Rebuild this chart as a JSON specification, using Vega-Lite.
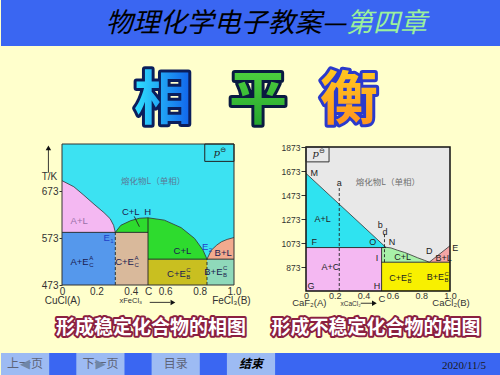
{
  "$schema": "https://vega.github.io/schema/vega-lite/v6.json",
  "background": "#FFFFCC",
  "padding": 0,
  "spacing": 0,
  "bounds": "flush",
  "config": {
    "view": {"stroke": null},
    "concat": {"spacing": 0},
    "axis": {"grid": false, "labelFont": "Liberation Sans"},
    "text": {"font": "Liberation Sans"}
  },
  "datasets": {
    "LA": [
      {"g": "AL", "x": 0, "T": 695, "T2": 585},
      {"g": "AL", "x": 0.069, "T": 682, "T2": 585},
      {"g": "AL", "x": 0.127, "T": 664, "T2": 585},
      {"g": "AL", "x": 0.186, "T": 645, "T2": 585},
      {"g": "AL", "x": 0.244, "T": 627, "T2": 585},
      {"g": "AL", "x": 0.28, "T": 614, "T2": 585},
      {"g": "AL", "x": 0.3, "T": 600, "T2": 585},
      {"g": "AL", "x": 0.31, "T": 585, "T2": 585},
      {"g": "CL", "x": 0.31, "T": 585, "T2": 585},
      {"g": "CL", "x": 0.342, "T": 600, "T2": 585},
      {"g": "CL", "x": 0.4, "T": 610, "T2": 585},
      {"g": "CL", "x": 0.45, "T": 615, "T2": 585},
      {"g": "CL", "x": 0.4999, "T": 616, "T2": 585},
      {"g": "CL", "x": 0.5001, "T": 616, "T2": 528},
      {"g": "CL", "x": 0.595, "T": 611, "T2": 528},
      {"g": "CL", "x": 0.693, "T": 595, "T2": 528},
      {"g": "CL", "x": 0.771, "T": 572, "T2": 528},
      {"g": "CL", "x": 0.82, "T": 547, "T2": 528},
      {"g": "CL", "x": 0.843, "T": 528, "T2": 528},
      {"g": "BL", "x": 0.843, "T": 528, "T2": 528},
      {"g": "BL", "x": 0.868, "T": 547, "T2": 528},
      {"g": "BL", "x": 0.9, "T": 558, "T2": 528},
      {"g": "BL", "x": 0.927, "T": 565, "T2": 528},
      {"g": "BL", "x": 0.96, "T": 570, "T2": 528},
      {"g": "BL", "x": 1, "T": 574, "T2": 528}
    ],
    "LR": [
      {"g": "L", "x": 0, "x2": 1, "T": 473, "T2": 773},
      {"g": "AE", "x": 0, "x2": 0.31, "T": 473, "T2": 585},
      {"g": "CEA", "x": 0.31, "x2": 0.5, "T": 473, "T2": 585},
      {"g": "CEC", "x": 0.5, "x2": 0.843, "T": 473, "T2": 528},
      {"g": "BE", "x": 0.843, "x2": 1, "T": 473, "T2": 528}
    ],
    "LS": [
      {"x": 0, "T": 585, "x2": 0.5, "T2": 585},
      {"x": 0.5, "T": 528, "x2": 1, "T2": 528},
      {"x": 0.5, "T": 473, "x2": 0.5, "T2": 616},
      {"x": 0.42, "T": 619, "x2": 0.45, "T2": 597},
      {"x": -0.079, "T": 712, "x2": -0.079, "T2": 762},
      {"x": 0.51, "T": 436, "x2": 0.63, "T2": 436}
    ],
    "LD": [
      {"x": 0.31, "T": 473, "x2": 0.31, "T2": 585},
      {"x": 0.843, "T": 473, "x2": 0.843, "T2": 528}
    ],
    "LT": [
      {"x": -0.079, "T": 765, "dir": "up"},
      {"x": 0.645, "T": 436, "dir": "right"}
    ],
    "LL": [
      {"x": 0.1, "T": 610, "t": "A+L"},
      {"x": 0.4, "T": 628, "t": "C+L"},
      {"x": 0.498, "T": 629, "t": "H"},
      {"x": 0.7, "T": 545, "t": "C+L"},
      {"x": 0.937, "T": 542, "t": "B+L"}
    ],
    "LC": [
      {"x": 0.155, "T": 523, "main": "A+E", "sup": "A", "sub": "C"},
      {"x": 0.418, "T": 523, "main": "C+E", "sup": "A", "sub": "C"},
      {"x": 0.72, "T": 497, "main": "C+E", "sup": "C", "sub": "B"},
      {"x": 0.933, "T": 501, "main": "B+E", "sup": "C", "sub": "B"},
      {"x": 0.278, "T": 573, "main": "E", "sup": "", "sub": "1"},
      {"x": 0.851, "T": 553, "main": "E", "sup": "", "sub": "2"}
    ],
    "LO": [
      {"x": 0.003, "T": 438, "t": "CuCl(A)"},
      {"x": 0.4, "T": 438, "t": "xFeCl₃"},
      {"x": 0.985, "T": 438, "t": "FeCl₃(B)"},
      {"x": -0.073, "T": 703, "t": "T/K"}
    ],
    "RA": [
      {"g": "AL", "x": 0, "T": 1653, "T2": 1035},
      {"g": "AL", "x": 0.556, "T": 1035, "T2": 1035},
      {"g": "CL", "x": 0.525, "T": 1035, "T2": 913},
      {"g": "CL", "x": 0.556, "T": 1037, "T2": 913},
      {"g": "CL", "x": 0.59, "T": 1032, "T2": 913},
      {"g": "CL", "x": 0.637, "T": 1012, "T2": 913},
      {"g": "CL", "x": 0.683, "T": 995, "T2": 913},
      {"g": "CL", "x": 0.729, "T": 973, "T2": 913},
      {"g": "CL", "x": 0.775, "T": 950, "T2": 913},
      {"g": "CL", "x": 0.822, "T": 929, "T2": 913},
      {"g": "CL", "x": 0.856, "T": 913, "T2": 913},
      {"g": "BL", "x": 0.856, "T": 913, "T2": 913},
      {"g": "BL", "x": 1, "T": 1050, "T2": 913}
    ],
    "RR": [
      {"g": "L", "x": 0, "x2": 1, "T": 673, "T2": 1873},
      {"g": "AC", "x": 0, "x2": 0.525, "T": 673, "T2": 1035},
      {"g": "CE", "x": 0.525, "x2": 1, "T": 673, "T2": 913}
    ],
    "RS": [
      {"x": 0, "T": 1035, "x2": 0.556, "T2": 1035},
      {"x": 0.525, "T": 673, "x2": 0.525, "T2": 1035},
      {"x": 0.525, "T": 913, "x2": 1, "T2": 913},
      {"x": 0.38, "T": 571, "x2": 0.46, "T2": 571}
    ],
    "RD": [
      {"x": 0.231, "T": 673, "x2": 0.231, "T2": 1540},
      {"x": 0.545, "T": 913, "x2": 0.545, "T2": 1160}
    ],
    "RT": [
      {"x": 0.475, "T": 571, "dir": "right"}
    ],
    "RL": [
      {"x": 0.058, "T": 1658, "t": "M"},
      {"x": 0.231, "T": 1570, "t": "a"},
      {"x": 0.116, "T": 1273, "t": "A+L"},
      {"x": 0.516, "T": 1223, "t": "b"},
      {"x": 0.549, "T": 1167, "t": "d"},
      {"x": 0.058, "T": 1079, "t": "F"},
      {"x": 0.463, "T": 1079, "t": "O"},
      {"x": 0.597, "T": 1079, "t": "N"},
      {"x": 0.671, "T": 959, "t": "C+L"},
      {"x": 0.856, "T": 1006, "t": "D"},
      {"x": 1.037, "T": 1034, "t": "E"},
      {"x": 0.956, "T": 945, "t": "B+L"},
      {"x": 0.493, "T": 945, "t": "I"},
      {"x": 0.169, "T": 870, "t": "A+C"},
      {"x": 0.035, "T": 717, "t": "G"},
      {"x": 0.493, "T": 717, "t": "H"}
    ],
    "RC": [
      {"x": 0.701, "T": 779, "main": "C+E", "sup": "C", "sub": "B"},
      {"x": 0.958, "T": 787, "main": "B+E", "sup": "C", "sub": "B"}
    ],
    "RO": [
      {"x": 0.023, "T": 576, "t": "CaF₂(A)"},
      {"x": 0.31, "T": 568, "t": "xCaCl₂"},
      {"x": 1.007, "T": 576, "t": "CaCl₂(B)"},
      {"x": 0.528, "T": 604, "t": "C"}
    ]
  },
  "vconcat": [
    {
      "width": 500,
      "height": 46,
      "view": {"fill": "#3A66F2"},
      "data": {"values": [{"a": "物理化学电子教案—", "b": "第四章"}]},
      "layer": [
        {"mark": {"type": "text", "align": "right", "baseline": "middle", "dx": 95, "dy": 1, "font": "Noto Sans CJK SC", "fontSize": 27, "fontStyle": "italic", "color": "#000000"}, "encoding": {"text": {"field": "a"}}},
        {"mark": {"type": "text", "align": "left", "baseline": "middle", "dx": 95, "dy": 1, "font": "Noto Sans CJK SC", "fontSize": 27, "fontStyle": "italic", "color": "#9CF09C"}, "encoding": {"text": {"field": "b"}}}
      ]
    },
    {
      "width": 500,
      "height": 98,
      "data": {"values": [{"c": "相", "p": "平", "h": "衡"}]},
      "layer": [
        {"mark": {"type": "text", "font": "Noto Sans CJK SC", "fontWeight": "bold", "fontSize": 58, "baseline": "middle", "dx": -88, "dy": 7, "fill": "#0B1E5B", "stroke": "#0B1E5B", "strokeWidth": 6, "strokeJoin": "round"}, "encoding": {"text": {"field": "c"}}},
        {"mark": {"type": "text", "font": "Noto Sans CJK SC", "fontWeight": "bold", "fontSize": 58, "baseline": "middle", "dx": -88, "dy": 7,
          "fill": {"gradient": "linear", "x1": 0, "y1": 0, "x2": 1, "y2": 0, "stops": [{"offset": 0, "color": "#30E2FF"}, {"offset": 1, "color": "#1060EA"}]}}, "encoding": {"text": {"field": "c"}}},
        {"mark": {"type": "text", "font": "Noto Sans CJK SC", "fontWeight": "bold", "fontSize": 58, "baseline": "middle", "dx": 7, "dy": 7, "fill": "#0A1A40", "stroke": "#0A1A40", "strokeWidth": 6, "strokeJoin": "round"}, "encoding": {"text": {"field": "p"}}},
        {"mark": {"type": "text", "font": "Noto Sans CJK SC", "fontWeight": "bold", "fontSize": 58, "baseline": "middle", "dx": 7, "dy": 7,
          "fill": {"gradient": "linear", "x1": 0, "y1": 0, "x2": 0, "y2": 1, "stops": [{"offset": 0, "color": "#5ADD44"}, {"offset": 1, "color": "#1E9E2A"}]}}, "encoding": {"text": {"field": "p"}}},
        {"mark": {"type": "text", "font": "Noto Sans CJK SC", "fontWeight": "bold", "fontSize": 58, "baseline": "middle", "dx": 98, "dy": 7, "fill": "#2A3ACC", "stroke": "#2A3ACC", "strokeWidth": 6, "strokeJoin": "round"}, "encoding": {"text": {"field": "h"}}},
        {"mark": {"type": "text", "font": "Noto Sans CJK SC", "fontWeight": "bold", "fontSize": 58, "baseline": "middle", "dx": 98, "dy": 7,
          "fill": {"gradient": "linear", "x1": 0, "y1": 0, "x2": 0, "y2": 1, "stops": [{"offset": 0, "color": "#FFD820"}, {"offset": 1, "color": "#FF8A1E"}]}}, "encoding": {"text": {"field": "h"}}}
      ]
    },
    {
      "width": 500,
      "height": 147,
      "resolve": {"scale": {"x": "independent", "y": "independent", "color": "independent", "shape": "independent"}},
      "layer": [
        {
          "encoding": {
            "x": {"field": "x", "type": "quantitative", "scale": {"domain": [0, 1], "range": [61, 233], "nice": false, "zero": false},
              "axis": {"orient": "bottom", "offset": -6, "values": [0, 0.2, 0.4, 0.5, 0.6, 0.8, 1], "format": ".1f", "labelExpr": "datum.value == 0 ? '0' : (datum.value == 0.5 ? 'C' : datum.label)", "tickSize": 0, "labelPadding": 1, "labelFlush": false, "labelOverlap": false, "labelFontSize": 10, "labelColor": "#333333", "domain": false, "grid": false, "title": null}},
            "y": {"field": "T", "type": "quantitative", "stack": null, "scale": {"domain": [473, 773], "range": [141, 0], "nice": false, "zero": false},
              "axis": {"orient": "left", "offset": -61, "values": [473, 573, 673], "format": "d", "tickSize": 3, "labelPadding": 1, "labelFontSize": 10, "labelColor": "#333333", "tickColor": "#333333", "domain": false, "grid": false, "title": null}}
          },
          "layer": [
            {"data": {"name": "LR"}, "mark": {"type": "rect"},
             "encoding": {"x2": {"field": "x2"}, "y2": {"field": "T2"},
               "color": {"field": "g", "type": "nominal", "scale": {"domain": ["L", "AL", "CL", "BL", "AE", "CEA", "CEC", "BE"], "range": ["#3CE2F2", "#F4B8F2", "#2EDB2E", "#F2AA8E", "#5598EC", "#D9B99B", "#C9BF20", "#8FD9BA"]}, "legend": null}}},
            {"data": {"name": "LA"}, "mark": {"type": "area"},
             "encoding": {"y2": {"field": "T2"},
               "color": {"field": "g", "type": "nominal", "scale": {"domain": ["L", "AL", "CL", "BL", "AE", "CEA", "CEC", "BE"], "range": ["#3CE2F2", "#F4B8F2", "#2EDB2E", "#F2AA8E", "#5598EC", "#D9B99B", "#C9BF20", "#8FD9BA"]}, "legend": null}}},
            {"data": {"name": "LA"}, "mark": {"type": "line", "color": "#333333", "strokeWidth": 0.8},
             "encoding": {"detail": {"field": "g"}}},
            {"data": {"name": "LS"}, "mark": {"type": "rule", "color": "#222222", "strokeWidth": 0.9},
             "encoding": {"x2": {"field": "x2"}, "y2": {"field": "T2"}}},
            {"data": {"name": "LD"}, "mark": {"type": "rule", "color": "#222222", "strokeWidth": 0.9, "strokeDash": [3, 2]},
             "encoding": {"x2": {"field": "x2"}, "y2": {"field": "T2"}}},
            {"data": {"name": "LT"}, "mark": {"type": "point", "filled": true, "color": "#111111", "size": 30, "opacity": 1},
             "encoding": {"shape": {"field": "dir", "type": "nominal", "scale": {"domain": ["up", "right"], "range": ["triangle-up", "triangle-right"]}, "legend": null}}},
            {"data": {"values": [{"x": 0, "x2": 1, "T": 473, "T2": 773}]}, "mark": {"type": "rect", "filled": false, "color": "#333333", "strokeWidth": 1},
             "encoding": {"x2": {"field": "x2"}, "y2": {"field": "T2"}}},
            {"data": {"values": [{"x": 0.83, "x2": 1, "T": 736, "T2": 773}]}, "mark": {"type": "rect", "filled": false, "color": "#222222", "strokeWidth": 1},
             "encoding": {"x2": {"field": "x2"}, "y2": {"field": "T2"}}},
            {"data": {"values": [{"x": 0.92, "T": 754, "p": "p", "s": "⊖"}]},
             "layer": [
               {"mark": {"type": "text", "align": "right", "fontSize": 10, "fontStyle": "italic", "color": "#222222", "font": "DejaVu Serif"}, "encoding": {"text": {"field": "p"}}},
               {"mark": {"type": "text", "align": "left", "fontSize": 7, "dy": -3, "color": "#222222", "font": "DejaVu Sans"}, "encoding": {"text": {"field": "s"}}}
             ]},
            {"data": {"values": [{"x": 0.53, "T": 695, "t": "熔化物L（单相）"}]}, "mark": {"type": "text", "font": "Noto Sans CJK SC", "fontSize": 8.5, "color": "#5A7A98"},
             "encoding": {"text": {"field": "t"}}},
            {"data": {"name": "LL"}, "mark": {"type": "text", "fontSize": 9.5},
             "encoding": {"text": {"field": "t"}, "color": {"condition": {"test": "datum.t == 'A+L'", "value": "#9A70A8"}, "value": "#1A1A50"}}},
            {"data": {"name": "LC"},
             "encoding": {"color": {"condition": {"test": "datum.main == 'E'", "value": "#2040C8"}, "value": "#1A1A50"}},
             "layer": [
               {"mark": {"type": "text", "align": "right", "fontSize": 9.5}, "encoding": {"text": {"field": "main"}}},
               {"mark": {"type": "text", "align": "left", "fontSize": 6, "dy": -3.5, "dx": 0.5}, "encoding": {"text": {"field": "sup"}}},
               {"mark": {"type": "text", "align": "left", "fontSize": 6, "dy": 3, "dx": 0.5}, "encoding": {"text": {"field": "sub"}}}
             ]},
            {"data": {"name": "LO"}, "mark": {"type": "text", "color": "#333333"},
             "encoding": {"text": {"field": "t"}, "size": {"condition": {"test": "datum.t[0] == 'x'", "value": 7.5}, "value": 10}}}
          ]
        },
        {
          "encoding": {
            "x": {"field": "x", "type": "quantitative", "scale": {"domain": [0, 1], "range": [305, 449], "nice": false, "zero": false},
              "axis": {"orient": "bottom", "values": [0, 0.2, 0.4, 0.6, 0.8, 1], "format": ".1f", "labelExpr": "datum.value == 0 ? '0' : datum.label", "tickSize": 0, "labelPadding": 0, "labelFlush": false, "labelOverlap": false, "labelFontSize": 9, "labelColor": "#333333", "domain": false, "grid": false, "title": null}},
            "y": {"field": "T", "type": "quantitative", "stack": null, "scale": {"domain": [673, 1873], "range": [147, 3], "nice": false, "zero": false},
              "axis": {"orient": "left", "offset": -305, "values": [873, 1073, 1273, 1473, 1673, 1873], "format": "d", "tickSize": 5, "labelPadding": 1, "labelFontSize": 8.5, "labelColor": "#333333", "tickColor": "#333333", "domain": false, "grid": false, "title": null}}
          },
          "layer": [
            {"data": {"name": "RR"}, "mark": {"type": "rect"},
             "encoding": {"x2": {"field": "x2"}, "y2": {"field": "T2"},
               "color": {"field": "g", "type": "nominal", "scale": {"domain": ["L", "AL", "CL", "BL", "AC", "CE"], "range": ["#E8E8E8", "#2FE3F0", "#A8F0A8", "#F4A6A6", "#F4B8F2", "#F8F000"]}, "legend": null}}},
            {"data": {"name": "RA"}, "mark": {"type": "area"},
             "encoding": {"y2": {"field": "T2"},
               "color": {"field": "g", "type": "nominal", "scale": {"domain": ["L", "AL", "CL", "BL", "AC", "CE"], "range": ["#E8E8E8", "#2FE3F0", "#A8F0A8", "#F4A6A6", "#F4B8F2", "#F8F000"]}, "legend": null}}},
            {"data": {"name": "RA"}, "mark": {"type": "line", "color": "#333333", "strokeWidth": 0.8},
             "encoding": {"detail": {"field": "g"}}},
            {"data": {"name": "RS"}, "mark": {"type": "rule", "color": "#222222", "strokeWidth": 0.9},
             "encoding": {"x2": {"field": "x2"}, "y2": {"field": "T2"}}},
            {"data": {"name": "RD"}, "mark": {"type": "rule", "color": "#222222", "strokeWidth": 0.9, "strokeDash": [3, 2]},
             "encoding": {"x2": {"field": "x2"}, "y2": {"field": "T2"}}},
            {"data": {"name": "RT"}, "mark": {"type": "point", "filled": true, "color": "#111111", "size": 30, "opacity": 1, "shape": "triangle-right"}, "encoding": {}},
            {"data": {"values": [{"x": 0, "x2": 1, "T": 673, "T2": 1873}]}, "mark": {"type": "rect", "filled": false, "color": "#111111", "strokeWidth": 1.5},
             "encoding": {"x2": {"field": "x2"}, "y2": {"field": "T2"}}},
            {"data": {"values": [{"x": 0, "x2": 0.16, "T": 1749, "T2": 1873}]}, "mark": {"type": "rect", "filled": false, "color": "#333333", "strokeWidth": 1},
             "encoding": {"x2": {"field": "x2"}, "y2": {"field": "T2"}}},
            {"data": {"values": [{"x": 0.09, "T": 1811, "p": "p", "s": "⊖"}]},
             "layer": [
               {"mark": {"type": "text", "align": "right", "fontSize": 10, "fontStyle": "italic", "color": "#222222", "font": "DejaVu Serif"}, "encoding": {"text": {"field": "p"}}},
               {"mark": {"type": "text", "align": "left", "fontSize": 7, "dy": -3, "color": "#222222", "font": "DejaVu Sans"}, "encoding": {"text": {"field": "s"}}}
             ]},
            {"data": {"values": [{"x": 0.569, "T": 1583, "t": "熔化物L（单相）"}]}, "mark": {"type": "text", "font": "Noto Sans CJK SC", "fontSize": 8.5, "color": "#707070"},
             "encoding": {"text": {"field": "t"}}},
            {"data": {"name": "RL"}, "mark": {"type": "text", "fontSize": 9, "color": "#222222"},
             "encoding": {"text": {"field": "t"}}},
            {"data": {"name": "RC"},
             "layer": [
               {"mark": {"type": "text", "align": "right", "fontSize": 9, "color": "#222222"}, "encoding": {"text": {"field": "main"}}},
               {"mark": {"type": "text", "align": "left", "fontSize": 6, "dy": -3.5, "dx": 0.5, "color": "#222222"}, "encoding": {"text": {"field": "sup"}}},
               {"mark": {"type": "text", "align": "left", "fontSize": 6, "dy": 3, "dx": 0.5, "color": "#222222"}, "encoding": {"text": {"field": "sub"}}}
             ]},
            {"data": {"name": "RO"}, "mark": {"type": "text", "color": "#333333"},
             "encoding": {"text": {"field": "t"}, "size": {"condition": {"test": "datum.t[0] == 'x'", "value": 6.5}, "value": 9.5}}}
          ]
        }
      ]
    },
    {
      "width": 500,
      "height": 62,
      "data": {"values": [{"a": "形成稳定化合物的相图", "b": "形成不稳定化合物的相图"}]},
      "layer": [
        {"mark": {"type": "text", "font": "Noto Sans CJK SC", "fontWeight": "bold", "fontSize": 19, "baseline": "middle", "dx": -100, "dy": 6, "fill": "#8B2040", "stroke": "#8B2040", "strokeWidth": 4, "strokeJoin": "round"}, "encoding": {"text": {"field": "a"}}},
        {"mark": {"type": "text", "font": "Noto Sans CJK SC", "fontWeight": "bold", "fontSize": 19, "baseline": "middle", "dx": -100, "dy": 6, "fill": "#FFFFFF"}, "encoding": {"text": {"field": "a"}}},
        {"mark": {"type": "text", "font": "Noto Sans CJK SC", "fontWeight": "bold", "fontSize": 19, "baseline": "middle", "dx": 125, "dy": 6, "fill": "#8B2040", "stroke": "#8B2040", "strokeWidth": 4, "strokeJoin": "round"}, "encoding": {"text": {"field": "b"}}},
        {"mark": {"type": "text", "font": "Noto Sans CJK SC", "fontWeight": "bold", "fontSize": 19, "baseline": "middle", "dx": 125, "dy": 6, "fill": "#FFFFFF"}, "encoding": {"text": {"field": "b"}}}
      ]
    },
    {
      "width": 500,
      "height": 22,
      "view": {"fill": "#3A66F2"},
      "data": {"values": [{"b": "上一页"}, {"b": "下一页"}, {"b": "目录"}, {"b": "结束"}]},
      "encoding": {"x": {"field": "b", "type": "nominal", "scale": {"type": "band", "domain": ["上一页", "下一页", "目录", "结束", "·1", "·2", "·3"], "paddingInner": 0.36, "paddingOuter": 0}, "axis": null}},
      "layer": [
        {"mark": {"type": "bar", "color": "#9DBBF3"}},
        {"transform": [{"filter": "datum.b != '结束'"}], "mark": {"type": "text", "font": "Noto Sans CJK SC", "fontSize": 12, "baseline": "middle", "color": "#5E6478"}, "encoding": {"text": {"field": "b"}}},
        {"transform": [{"filter": "datum.b == '上一页'"}], "mark": {"type": "text", "font": "DejaVu Sans", "fontSize": 13, "baseline": "middle", "text": "◀", "color": "#6F86A8"}},
        {"transform": [{"filter": "datum.b == '下一页'"}], "mark": {"type": "text", "font": "DejaVu Sans", "fontSize": 13, "baseline": "middle", "text": "▶", "color": "#6F86A8"}},
        {"transform": [{"filter": "datum.b == '结束'"}], "mark": {"type": "text", "font": "Noto Sans CJK SC", "fontSize": 12, "fontWeight": "bold", "fontStyle": "italic", "baseline": "middle", "color": "#000000"}, "encoding": {"text": {"field": "b"}}},
        {"data": {"values": [{"d": "2020/11/5"}]}, "mark": {"type": "text", "font": "Liberation Serif", "fontSize": 11, "baseline": "middle", "dy": 2, "dx": 213, "color": "#1A1A1A"},
         "encoding": {"x": null, "text": {"field": "d"}}}
      ]
    }
  ]
}
